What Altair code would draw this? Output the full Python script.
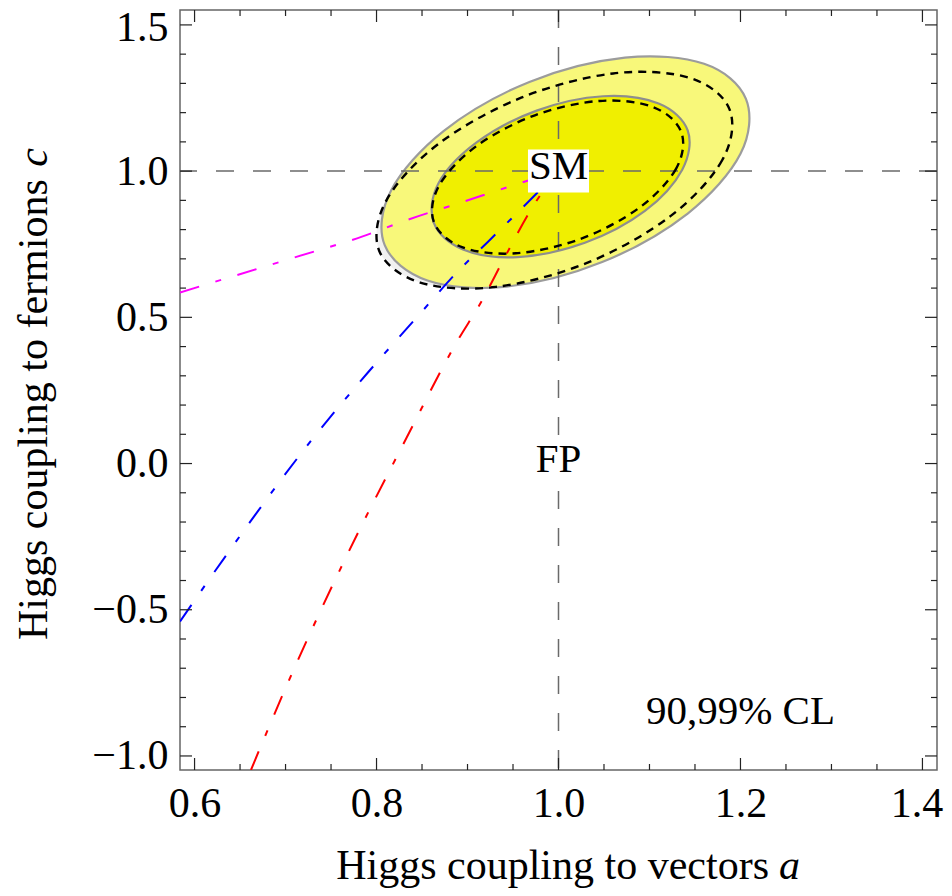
import altair as alt
import pandas as pd

# ---------------- data ----------------
X_DOMAIN = [0.584, 1.416]
Y_DOMAIN = [-1.048, 1.551]

x_major = [0.6, 0.8, 1.0, 1.2, 1.4]
x_minor = [0.65, 0.7, 0.75, 0.85, 0.9, 0.95, 1.05, 1.1, 1.15, 1.25, 1.3, 1.35]
y_major = [-1.0, -0.5, 0.0, 0.5, 1.0, 1.5]
y_minor = [-0.9, -0.8, -0.7, -0.6, -0.4, -0.3, -0.2, -0.1, 0.1, 0.2, 0.3, 0.4,
           0.6, 0.7, 0.8, 0.9, 1.1, 1.2, 1.3, 1.4]

# 99% CL contour (solid grey outline), points read around the curve
cl99_a = [1.206, 1.200, 1.142, 1.048, 0.943, 0.856, 0.809, 0.816, 0.874, 0.968, 1.073, 1.160]
cl99_c = [1.247, 1.059, 0.855, 0.689, 0.605, 0.626, 0.747, 0.934, 1.138, 1.305, 1.388, 1.367]
# 90% CL contour (solid grey outline)
cl90_a = [1.142, 1.136, 1.095, 1.029, 0.955, 0.895, 0.863, 0.868, 0.910, 0.976, 1.049, 1.110]
cl90_c = [1.139, 1.005, 0.864, 0.755, 0.706, 0.732, 0.823, 0.958, 1.098, 1.207, 1.256, 1.231]
# dashed 99% contour
d99_a = [1.188, 1.180, 1.123, 1.032, 0.931, 0.848, 0.803, 0.811, 0.868, 0.959, 1.060, 1.144]
d99_c = [1.211, 1.038, 0.846, 0.687, 0.604, 0.619, 0.727, 0.901, 1.093, 1.251, 1.334, 1.319]
# dashed 90% contour
d90_a = [1.135, 1.129, 1.088, 1.024, 0.953, 0.894, 0.863, 0.869, 0.910, 0.974, 1.045, 1.104]
d90_c = [1.133, 1.007, 0.873, 0.768, 0.719, 0.740, 0.826, 0.952, 1.086, 1.191, 1.240, 1.219]

# model lines ending at the SM point
mag_a = [0.584, 0.711, 0.784, 0.831, 0.893, 0.966, 1.0]
mag_c = [0.585, 0.706, 0.776, 0.830, 0.893, 0.967, 1.0]
blue_a = [0.584, 0.637, 0.727, 0.791, 0.846, 0.889, 0.922, 0.977, 1.0]
blue_c = [-0.540, -0.304, 0.074, 0.313, 0.506, 0.656, 0.757, 0.927, 1.0]
red_a = [0.662, 0.700, 0.764, 0.833, 0.886, 0.918, 0.940, 0.977, 1.0]
red_c = [-1.048, -0.768, -0.336, 0.088, 0.404, 0.569, 0.700, 0.904, 1.0]

models = ["magenta", "blue", "red"]
model_colors = ["#ff00ff", "#0000ff", "#ff0000"]

labels = ["SM", "FP", "90,99% CL"]
label_a = [1.0, 1.0, 1.2]
label_c = [1.0, 0.0, -0.863]

x_title = "Higgs coupling to vectors"
x_title_var = "a"
y_title = "Higgs coupling to fermions"
y_title_var = "c"

# ---------------- chart ----------------
W, H = 757, 760
FONT = "Liberation Serif"

xs = alt.Scale(domain=X_DOMAIN, nice=False, zero=False)
ys = alt.Scale(domain=Y_DOMAIN, nice=False, zero=False)
xaxis = alt.Axis(values=x_major, format=".1f", title=None, ticks=False, domain=False,
                 grid=False, labelFont=FONT, labelFontSize=42, labelColor="black",
                 labelPadding=13, labelOverlap=False, labelFlush=False,
                 labelOffset={"condition": {"test": "datum.value > 1.39", "value": -6}, "value": 0})
yaxis = alt.Axis(values=y_major, format=".1f", title=None, ticks=False, domain=False,
                 grid=False, labelFont=FONT, labelFontSize=42, labelColor="black",
                 labelPadding=12, labelOverlap=False, labelFlush=False,
                 labelOffset={"condition": {"test": "datum.value > 1.49", "value": 3}, "value": 0})


def X():
    return alt.X("a:Q", scale=xs, axis=xaxis)


def Y():
    return alt.Y("c:Q", scale=ys, axis=yaxis)


def contour(a, c):
    return pd.DataFrame({"a": a, "c": c, "i": list(range(len(a)))})


def region(a, c, **kw):
    return alt.Chart(contour(a, c)).mark_line(interpolate="cardinal-closed", **kw).encode(
        X(), Y(), order="i:Q")


layers = []
# light grey backing of the dashed regions
layers.append(region(d99_a, d99_c, fill="#f1f1f1", strokeOpacity=0))
layers.append(region(d90_a, d90_c, fill="#ececec", strokeOpacity=0))
# 99% and 90% regions
layers.append(region(cl99_a, cl99_c, fill="#f8f87a", stroke="#9c9c9c", strokeWidth=2.2))
layers.append(region(cl90_a, cl90_c, fill="#f0ef00", stroke="#8e8e8e", strokeWidth=2.2))

# dashed reference lines at a=1, c=1
layers.append(alt.Chart(pd.DataFrame({"a": [1.0]})).mark_rule(
    color="#6a6a6a", strokeWidth=1.5, strokeDash=[18, 19]).encode(x=X()))
layers.append(alt.Chart(pd.DataFrame({"c": [1.0]})).mark_rule(
    color="#6a6a6a", strokeWidth=1.5, strokeDash=[18, 19]).encode(y=Y()))

# dashed contours
layers.append(region(d99_a, d99_c, color="black", strokeWidth=2.4, strokeDash=[8, 6]))
layers.append(region(d90_a, d90_c, color="black", strokeWidth=2.4, strokeDash=[8, 6]))

# model lines
rows = []
for name, aa, cc in [("magenta", mag_a, mag_c), ("blue", blue_a, blue_c), ("red", red_a, red_c)]:
    for k, (u, v) in enumerate(zip(aa, cc)):
        rows.append({"a": u, "c": v, "model": name, "i": k})
layers.append(alt.Chart(pd.DataFrame(rows)).mark_line(
    strokeWidth=2, strokeDash=[20, 17, 6, 17], interpolate="monotone", clip=True
).encode(X(), Y(), order="i:Q",
         color=alt.Color("model:N", scale=alt.Scale(domain=models, range=model_colors), legend=None)))

# white boxes behind SM and FP
layers.append(alt.Chart(pd.DataFrame({"a": [1.0], "c": [1.0]})).mark_point(
    shape="M-1.42,-1L1.42,-1L1.42,1L-1.42,1Z", size=1849, filled=True,
    fill="white", strokeWidth=0, opacity=1).encode(X(), Y()))
layers.append(alt.Chart(pd.DataFrame({"a": [1.0], "c": [0.0]})).mark_point(
    shape="M-1.2,-1L1.2,-1L1.2,1L-1.2,1Z", size=2116, filled=True,
    fill="white", strokeWidth=0, opacity=1).encode(X(), Y()))

# annotations
layers.append(alt.Chart(pd.DataFrame({"a": label_a, "c": label_c, "label": labels})).mark_text(
    font=FONT, fontSize=41, color="black", dy=-4, baseline="middle"
).encode(X(), Y(), text="label:N"))


# inward frame ticks
def xticks(vals, length, top):
    y0 = 0 if top else H
    y1 = length if top else H - length
    return alt.Chart(pd.DataFrame({"a": vals})).mark_rule(color="#222222", strokeWidth=1.2).encode(
        x=X(), y=alt.value(y0), y2=alt.value(y1))


def yticks(vals, length, right):
    x0 = W if right else 0
    x1 = W - length if right else length
    return alt.Chart(pd.DataFrame({"c": vals})).mark_rule(color="#222222", strokeWidth=1.2).encode(
        y=Y(), x=alt.value(x0), x2=alt.value(x1))


for side in (False, True):
    layers.append(xticks(x_major, 12, side))
    layers.append(xticks(x_minor, 6, side))
    layers.append(yticks(y_major, 12, side))
    layers.append(yticks(y_minor, 6, side))

# axis titles (italic variable letter)
layers.append(alt.Chart(pd.DataFrame({"t": [x_title]})).mark_text(
    font=FONT, fontSize=42, align="right", baseline="alphabetic", color="black"
).encode(x=alt.value(589), y=alt.value(869), text="t:N"))
layers.append(alt.Chart(pd.DataFrame({"t": [x_title_var]})).mark_text(
    font=FONT, fontSize=42, align="left", baseline="alphabetic", fontStyle="italic", color="black"
).encode(x=alt.value(599), y=alt.value(869), text="t:N"))
layers.append(alt.Chart(pd.DataFrame({"t": [y_title]})).mark_text(
    font=FONT, fontSize=42, align="left", baseline="alphabetic", angle=270, color="black"
).encode(x=alt.value(-133), y=alt.value(630), text="t:N"))
layers.append(alt.Chart(pd.DataFrame({"t": [y_title_var]})).mark_text(
    font=FONT, fontSize=42, align="right", baseline="alphabetic", angle=270, fontStyle="italic",
    color="black"
).encode(x=alt.value(-133), y=alt.value(138), text="t:N"))

chart = alt.layer(*layers).properties(
    width=W, height=H,
    padding={"left": 172, "top": 2, "right": 7, "bottom": 118},
    autosize=alt.AutoSizeParams(type="none"),
).configure_view(stroke="#666666", strokeWidth=1.5)

chart.save("out.html", embed_options={"renderer": "svg", "actions": False})
